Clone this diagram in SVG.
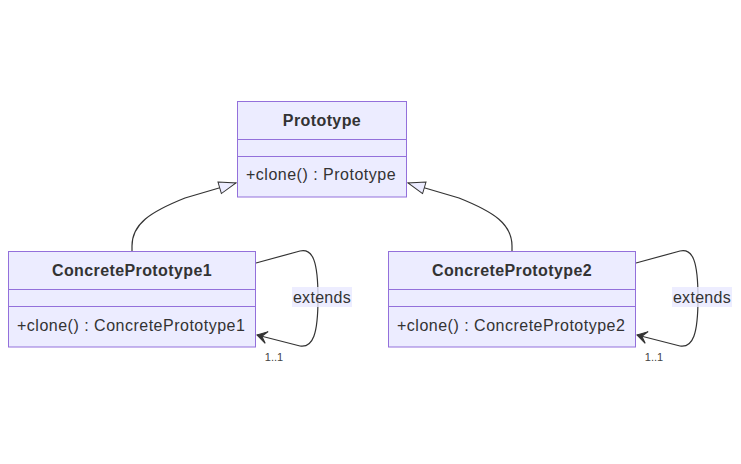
<svg xmlns="http://www.w3.org/2000/svg" width="741" height="464" viewBox="0 0 741 464">
<defs>
<style>
.box{fill:#ECECFF;stroke:#9370DB;stroke-width:1}
.div{stroke:#9370DB;stroke-width:1}
.title{font-family:"Liberation Sans",Arial,sans-serif;font-size:16px;font-weight:bold;fill:#333;text-anchor:middle;letter-spacing:0.4px}
.mem{font-family:"Liberation Sans",Arial,sans-serif;font-size:16px;fill:#333;letter-spacing:0.5px}
.edge{fill:none;stroke:#333;stroke-width:1.2}
.lbl{font-family:"Liberation Sans",Arial,sans-serif;font-size:16px;fill:#333;text-anchor:middle;letter-spacing:0.3px}
.lblbg{fill:#E8E8FF;opacity:0.8}
.card{font-family:"Liberation Sans",Arial,sans-serif;font-size:11px;fill:#444;text-anchor:middle}
</style>
<marker id="ext" markerUnits="userSpaceOnUse" viewBox="0 0 20 14" refX="18" refY="7" markerWidth="20" markerHeight="14" orient="auto">
<path d="M1,1 L18,7 L1,13 Z" fill="#ECECFF" stroke="#333" stroke-width="1"/>
</marker>
<marker id="dep" markerUnits="userSpaceOnUse" viewBox="0 0 20 14" refX="18" refY="7" markerWidth="20" markerHeight="14" orient="auto">
<path d="M18,7 L8,13 L13,7 L8,1 Z" fill="#333" stroke="#333" stroke-width="1"/>
</marker>
</defs>
<rect width="741" height="464" fill="#fff"/>
<g id="edges">
<path class="edge" d="M132,251 L132,246 C132,224 150,212 185,198 L236,183" marker-end="url(#ext)"/>
<path class="edge" d="M512,251 L512,246 C512,224 494,212 459,198 L408,183" marker-end="url(#ext)"/>
<path class="edge" d="M256,263 L300,251 C313,248 318,262 318,298 C318,334 313,348 300,346 L257,335" marker-end="url(#dep)"/>
<path class="edge" d="M636,263 L680,251 C693,248 698,262 698,298 C698,334 693,348 680,346 L637,335" marker-end="url(#dep)"/>
</g>
<g id="Prototype">
<rect class="box" x="237.5" y="101.5" width="169" height="95.5"/>
<line class="div" x1="237.5" y1="139.5" x2="406.5" y2="139.5"/>
<line class="div" x1="237.5" y1="156.5" x2="406.5" y2="156.5"/>
<text class="title" x="322" y="126">Prototype</text>
<text class="mem" x="246" y="180">+clone() : Prototype</text>
</g>
<g id="ConcretePrototype1">
<rect class="box" x="8.5" y="251.5" width="247" height="95.5"/>
<line class="div" x1="8.5" y1="289.5" x2="255.5" y2="289.5"/>
<line class="div" x1="8.5" y1="306.5" x2="255.5" y2="306.5"/>
<text class="title" x="132" y="276">ConcretePrototype1</text>
<text class="mem" x="17" y="331">+clone() : ConcretePrototype1</text>
</g>
<g id="ConcretePrototype2">
<rect class="box" x="388.5" y="251.5" width="247" height="95.5"/>
<line class="div" x1="388.5" y1="289.5" x2="635.5" y2="289.5"/>
<line class="div" x1="388.5" y1="306.5" x2="635.5" y2="306.5"/>
<text class="title" x="512" y="276">ConcretePrototype2</text>
<text class="mem" x="397" y="331">+clone() : ConcretePrototype2</text>
</g>
<g id="labels">
<rect class="lblbg" x="292" y="287" width="60" height="20"/>
<text class="lbl" x="322" y="303">extends</text>
<text class="card" x="274" y="361">1..1</text>
<rect class="lblbg" x="672" y="287" width="60" height="20"/>
<text class="lbl" x="702" y="303">extends</text>
<text class="card" x="654" y="361">1..1</text>
</g>
</svg>
